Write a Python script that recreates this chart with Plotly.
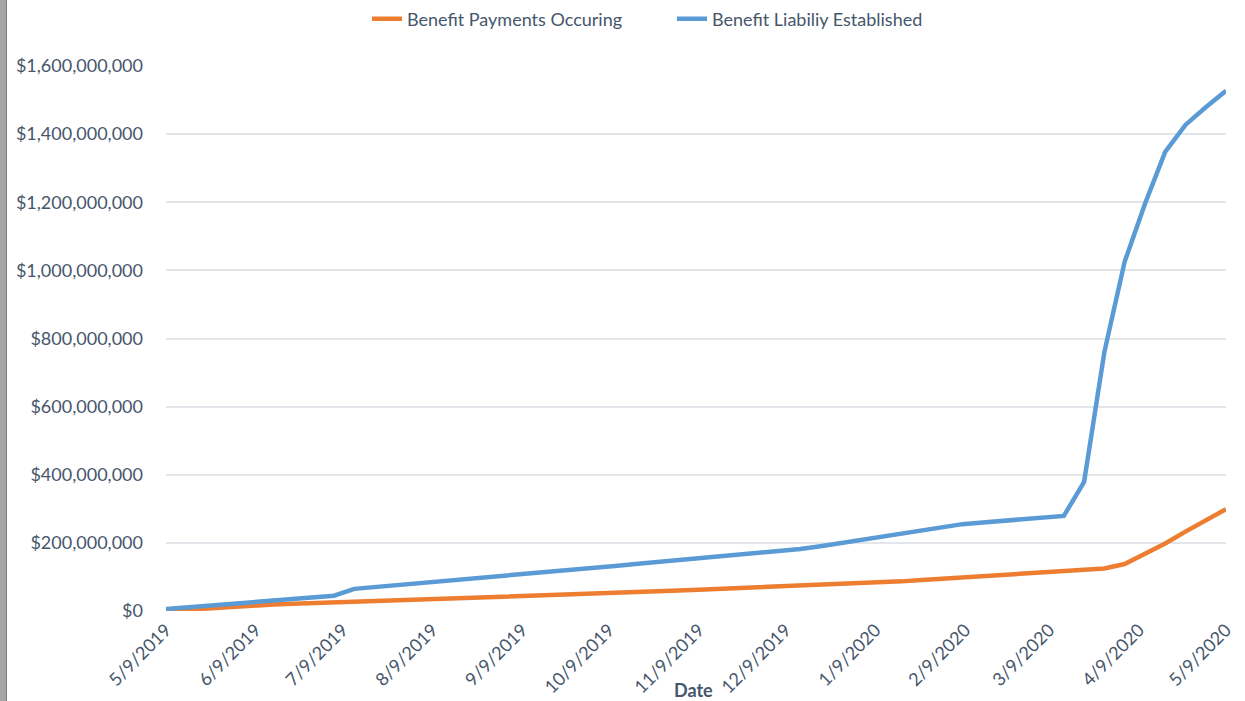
import plotly.graph_objects as go
import pandas as pd

# Dates: first point 5/9/2019, then weekly (Saturdays) through 5/9/2020
dates = ["2019-05-09"] + [d.strftime("%Y-%m-%d") for d in pd.date_range("2019-05-18", "2020-05-09", freq="7D")]

# Values in millions of dollars
payments_m = [0, 5, 10, 14, 17, 19, 21, 23, 25, 27, 29, 31, 33, 35, 37, 38.5, 40, 41.5, 43,
              45.5, 48, 50.5, 53, 55.5, 58, 60, 62.5, 65, 67, 69, 71, 73, 75, 77, 80, 83.5,
              87, 91, 95, 99, 103, 107, 111, 115, 118, 121.5, 125, 138, 167, 198, 233, 266, 299]
liability_m = [6, 11, 16, 21, 26, 30.5, 35, 40, 45, 65, 70, 75, 80, 85, 90, 95, 100, 105, 110,
               115.5, 121, 127, 133, 139, 144, 149, 154, 159, 164, 169, 175, 182, 190, 199, 208,
               217, 226, 235, 245, 255, 260, 265, 270, 275, 279, 379, 760, 1025, 1195, 1348,
               1427, 1479, 1527]

payments = [v * 1e6 for v in payments_m]
liability = [v * 1e6 for v in liability_m]

tick_dates = ["2019-05-09", "2019-06-09", "2019-07-09", "2019-08-09", "2019-09-09", "2019-10-09",
              "2019-11-09", "2019-12-09", "2020-01-09", "2020-02-09", "2020-03-09", "2020-04-09",
              "2020-05-09"]
tick_text = ["5/9/2019", "6/9/2019", "7/9/2019", "8/9/2019", "9/9/2019", "10/9/2019",
             "11/9/2019", "12/9/2019", "1/9/2020", "2/9/2020", "3/9/2020", "4/9/2020", "5/9/2020"]
y_ticks = [0, 2e8, 4e8, 6e8, 8e8, 1e9, 1.2e9, 1.4e9, 1.6e9]

TEXT = "#46566b"
FONT = "Lato"

fig = go.Figure()
fig.add_trace(go.Scatter(x=dates, y=payments, mode="lines", name="Benefit Payments Occuring",
                         line=dict(color="#ED7D31", width=4.5), cliponaxis=False))
fig.add_trace(go.Scatter(x=dates, y=liability, mode="lines", name="Benefit Liabiliy Established",
                         line=dict(color="#5B9BD5", width=4.5), cliponaxis=False))

W, H = 1245, 701
ML, MR, MT, MB = 166, 19, 66, 90
pw = W - ML - MR
ph = H - MT - MB

fig.update_layout(
    width=W, height=H,
    margin=dict(l=ML, r=MR, t=MT, b=MB, autoexpand=False),
    paper_bgcolor="white", plot_bgcolor="white",
    font=dict(family=FONT, color=TEXT),
    showlegend=True,
    legend=dict(orientation="h", xref="container", yref="container",
                x=672 / W, xanchor="center", y=1 - 19 / H, yanchor="middle",
                font=dict(size=18, color=TEXT, family=FONT), bgcolor="rgba(0,0,0,0)",
                entrywidth=260, entrywidthmode="pixels"),
    xaxis=dict(type="date", range=["2019-05-09", "2020-05-09"], tickvals=tick_dates,
               ticktext=tick_text, tickangle=-45, showgrid=False, zeroline=False,
               showline=False, ticks="", tickfont=dict(size=18, color=TEXT, family=FONT),
               ticklabelstandoff=4, automargin=False),
    yaxis=dict(range=[0, 1.6e9], tickvals=y_ticks, tickformat="$,.0f", showgrid=True,
               gridcolor="#e2e6eb", gridwidth=1.5, zeroline=False, showline=False, ticks="",
               tickfont=dict(size=18, color=TEXT, family=FONT), ticklabelstandoff=22,
               automargin=False),
)

fig.add_annotation(text="<b>Date</b>", xref="paper", yref="paper", x=(693 - ML) / pw,
                   y=-(690 - (H - MB)) / ph, showarrow=False,
                   font=dict(size=18, color=TEXT, family=FONT), xanchor="center", yanchor="middle")

# Grey window edge at the left
fig.add_shape(type="rect", xref="paper", yref="paper", x0=-ML / pw, x1=(6 - ML) / pw,
              y0=-MB / ph, y1=1 + MT / ph, fillcolor="#a6a6a6",
              line=dict(width=0), layer="above")
fig.add_shape(type="line", xref="paper", yref="paper", x0=(6.5 - ML) / pw, x1=(6.5 - ML) / pw,
              y0=-MB / ph, y1=1 + MT / ph,
              line=dict(color="#7a7a7a", width=1), layer="above")

fig.write_html("out.html", config={"displayModeBar": False},
               post_script="document.body.style.margin='0';document.body.style.overflow='hidden';")
